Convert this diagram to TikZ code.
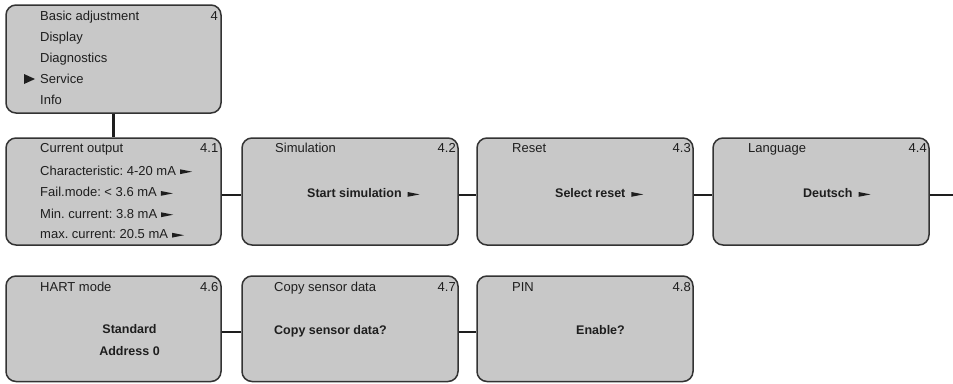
\documentclass[tikz,border=0pt]{standalone}
\usepackage{fontspec}
\setmainfont{Liberation Sans}
\frenchspacing
\definecolor{boxfill}{HTML}{C8C8C8}
\definecolor{boxedge}{HTML}{333333}
\definecolor{txt}{HTML}{1E1E1E}
\definecolor{wire}{HTML}{1E1E1E}
\newcommand{\ptr}[1]{\hspace{#1}\tikz[baseline=0pt,x=1pt,y=1pt]\fill[txt] (0,0.9) -- (12,3.3) -- (0,5.7) -- cycle;}
\begin{document}
\begin{tikzpicture}[x=1pt,y=-1pt,
  menubox/.style={draw=boxedge, fill=boxfill, line width=1.5pt, rounded corners=10pt, rectangle, inner sep=0pt},
  lbl/.style={inner sep=0pt, text=txt, font=\fontsize{13}{15}\selectfont},
  blbl/.style={inner sep=0pt, text=txt, font=\fontsize{12.5}{15}\selectfont\bfseries},
  wireline/.style={draw=wire, line width=2.2pt}]
\useasboundingbox (0,0) rectangle (953,383);

% boxes
\node[menubox, minimum width=215pt, minimum height=108pt] (m4) at (113.5,59) {};
\node[menubox, minimum width=215pt, minimum height=107pt] (b41) at (113.5,191.5) {};
\node[menubox, minimum width=216pt, minimum height=107pt] (b42) at (350,191.5) {};
\node[menubox, minimum width=216pt, minimum height=107pt] (b43) at (585,191.5) {};
\node[menubox, minimum width=216pt, minimum height=107pt] (b44) at (821,191.5) {};
\node[menubox, minimum width=215pt, minimum height=105.5pt] (b46) at (113.5,328.75) {};
\node[menubox, minimum width=216pt, minimum height=105.5pt] (b47) at (350,328.75) {};
\node[menubox, minimum width=216pt, minimum height=105.5pt] (b48) at (585,328.75) {};

% connectors
\draw[wireline] (m4.south) -- (b41.north);
\draw[wireline] ([yshift=-3.5pt]b41.east) -- ([yshift=-3.5pt]b42.west);
\draw[wireline] ([yshift=-3.5pt]b42.east) -- ([yshift=-3.5pt]b43.west);
\draw[wireline] ([yshift=-3.5pt]b43.east) -- ([yshift=-3.5pt]b44.west);
\coordinate (rowend) at (953,195);
\draw[wireline] ([yshift=-3.5pt]b44.east) -- (rowend);
\draw[wireline] ([yshift=-3pt]b46.east) -- ([yshift=-3pt]b47.west);
\draw[wireline] ([yshift=-3pt]b47.east) -- ([yshift=-3pt]b48.west);

% top menu
\node[lbl, anchor=base west] (t4a) at (40,20) {Basic adjustment};
\node[lbl, anchor=base east] (n4) at (218,20) {4};
\node[lbl, anchor=base west] (t4b) at (40,41) {Display};
\node[lbl, anchor=base west] (t4c) at (40,62) {Diagnostics};
\node[lbl, anchor=base west] (t4d) at (40,83) {Service};
\node[lbl, anchor=base west] (t4e) at (40,104) {Info};
\fill[txt] (24,74) -- (35,79) -- (24,84) -- cycle;

% 4.1
\node[lbl, anchor=base west] (t41) at (40,152.3) {Current output};
\node[lbl, anchor=base east] (n41) at (218.5,152.3) {4.1};
\node[lbl, anchor=base west] (t41a) at (40,175) {Characteristic: 4-20 mA\ptr{4pt}};
\node[lbl, anchor=base west] (t41b) at (40,196.7) {Fail.mode: < 3.6 mA\ptr{4pt}};
\node[lbl, anchor=base west] (t41c) at (40,218) {Min. current: 3.8 mA\ptr{4pt}};
\node[lbl, anchor=base west] (t41d) at (40,238.5) {max. current: 20.5 mA\ptr{4pt}};

% 4.2
\node[lbl, anchor=base west] (t42) at (275,152.3) {Simulation};
\node[lbl, anchor=base east] (n42) at (456,152.3) {4.2};
\node[blbl, anchor=base west] (s42) at (307,197.7) {Start simulation\ptr{6pt}};

% 4.3
\node[lbl, anchor=base west] (t43) at (512,152.3) {Reset};
\node[lbl, anchor=base east] (n43) at (691,152.3) {4.3};
\node[blbl, anchor=base west] (s43) at (555,197.7) {Select reset\ptr{6pt}};

% 4.4
\node[lbl, anchor=base west] (t44) at (748,152.3) {Language};
\node[lbl, anchor=base east] (n44) at (927,152.3) {4.4};
\node[blbl, anchor=base west] (s44) at (803,197.7) {Deutsch\ptr{6pt}};

% 4.6
\node[lbl, anchor=base west] (t46) at (40,291) {HART mode};
\node[lbl, anchor=base east] (n46) at (218.5,291) {4.6};
\node[blbl, anchor=base] (s46a) at (129.5,333.3) {Standard};
\node[blbl, anchor=base] (s46b) at (129.5,355) {Address 0};

% 4.7
\node[lbl, anchor=base west] (t47) at (274,291) {Copy sensor data};
\node[lbl, anchor=base east] (n47) at (456,291) {4.7};
\node[blbl, anchor=base west] (s47) at (274,334.3) {Copy sensor data?};

% 4.8
\node[lbl, anchor=base west] (t48) at (512,291) {PIN};
\node[lbl, anchor=base east] (n48) at (691,291) {4.8};
\node[blbl, anchor=base west] (s48) at (576,334.3) {Enable?};
\end{tikzpicture}
\end{document}
